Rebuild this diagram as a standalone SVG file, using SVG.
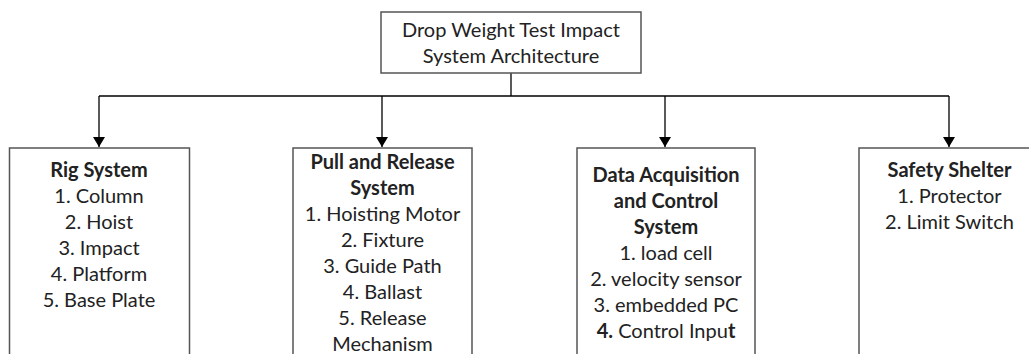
<svg xmlns="http://www.w3.org/2000/svg" width="1029" height="354" viewBox="0 0 1029 354">
<style>
.box{fill:#fff;stroke:#555;stroke-width:1.5}
.t{font-family:Lato,"Open Sans",sans-serif;font-size:20px;fill:#222;text-anchor:middle}
.b{font-weight:bold}
.c{stroke:#000;stroke-width:1.3;fill:none}
</style>
<defs>
<marker id="ah" markerWidth="12" markerHeight="12" refX="10" refY="6" orient="auto" markerUnits="userSpaceOnUse">
<path d="M0,0 L10,6 L0,12 Z" fill="#000"/>
</marker>
</defs>
<rect width="1029" height="354" fill="#fff"/>
<g id="connectors">
<line class="c" x1="511" y1="73" x2="511" y2="96"/>
<line class="c" x1="99" y1="96" x2="949" y2="96"/>
<line class="c" x1="99" y1="96" x2="99" y2="147" marker-end="url(#ah)"/>
<line class="c" x1="382" y1="96" x2="382" y2="147" marker-end="url(#ah)"/>
<line class="c" x1="665" y1="96" x2="665" y2="147" marker-end="url(#ah)"/>
<line class="c" x1="949" y1="96" x2="949" y2="147" marker-end="url(#ah)"/>
</g>
<g id="root">
<rect class="box" x="381" y="12" width="260" height="61"/>
<text class="t" x="511" y="37">Drop Weight Test Impact</text>
<text class="t" x="511" y="63">System Architecture</text>
</g>
<g id="rig">
<rect class="box" x="9.5" y="148" width="180" height="220"/>
<text class="t b" x="99" y="177">Rig System</text>
<text class="t" x="99" y="203">1. Column</text>
<text class="t" x="99" y="229">2. Hoist</text>
<text class="t" x="99" y="255">3. Impact</text>
<text class="t" x="99" y="281">4. Platform</text>
<text class="t" x="99" y="307">5. Base Plate</text>
</g>
<g id="pull">
<rect class="box" x="293" y="148" width="179" height="220"/>
<text class="t b" x="382.5" y="169">Pull and Release</text>
<text class="t b" x="382.5" y="195">System</text>
<text class="t" x="382.5" y="221">1. Hoisting Motor</text>
<text class="t" x="382.5" y="247">2. Fixture</text>
<text class="t" x="382.5" y="273">3. Guide Path</text>
<text class="t" x="382.5" y="299">4. Ballast</text>
<text class="t" x="382.5" y="325">5. Release</text>
<text class="t" x="382.5" y="351">Mechanism</text>
</g>
<g id="daq">
<rect class="box" x="577" y="148" width="178" height="220"/>
<text class="t b" x="666" y="182">Data Acquisition</text>
<text class="t b" x="666" y="208">and Control</text>
<text class="t b" x="666" y="234">System</text>
<text class="t" x="666" y="260">1. load cell</text>
<text class="t" x="666" y="286">2. velocity  sensor</text>
<text class="t" x="666" y="312">3. embedded PC</text>
<text class="t" x="666" y="338"><tspan class="b">4.</tspan> Control Inpu<tspan class="b">t</tspan></text>
</g>
<g id="safety">
<rect class="box" x="859" y="148" width="190" height="220"/>
<text class="t b" x="949.5" y="177">Safety Shelter</text>
<text class="t" x="949.5" y="203">1. Protector</text>
<text class="t" x="949.5" y="229">2. Limit Switch</text>
</g>
</svg>
